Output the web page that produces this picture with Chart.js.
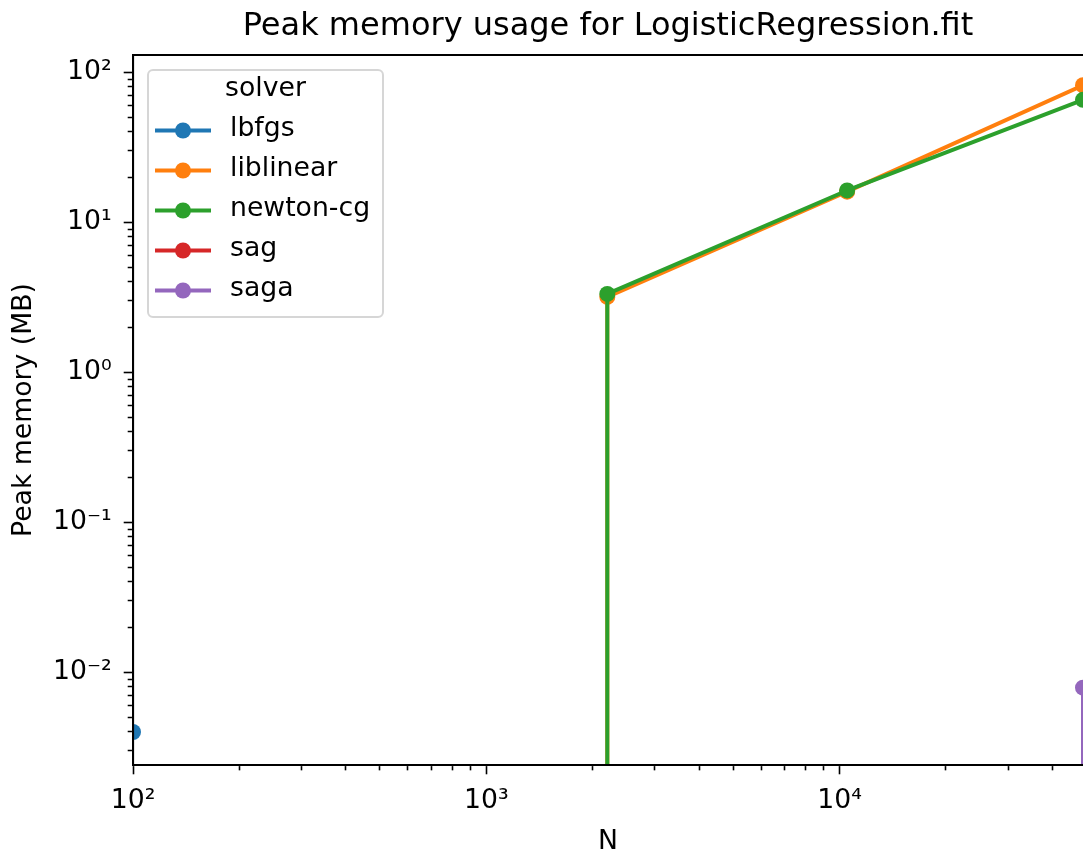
<!DOCTYPE html>
<html>
<head>
<meta charset="utf-8">
<script src="https://cdn.jsdelivr.net/npm/chart.js@4/dist/chart.umd.min.js"></script>
<style>
  html, body { margin: 0; padding: 0; background: #ffffff; }
  #wrap { width: 1083px; height: 855px; overflow: hidden; }
  canvas { display: block; }
</style>
</head>
<body>
<div id="wrap"><canvas id="chart" width="1083" height="855"></canvas></div>
<script>
// ---------------- data ----------------
// 0 = measured zero (clipped on a log axis), null = not measured
const N = [100, 2200, 10500, 48842];
const solvers = ['lbfgs', 'liblinear', 'newton-cg', 'sag', 'saga'];
const lbfgs = [0.004, null, null, null];
const liblinear = [0, 3.18, 16.0, 82];
const newtonCg = [0, 3.33, 16.3, 65.5];
const sag = [0, 0, 0, 0];
const saga = [0, 0, 0, 0.0079];

const xMajorTicks = [100, 1000, 10000];
const xTickLabels = ['10\u00B2', '10\u00B3', '10\u2074'];
const yMajorTicks = [0.01, 0.1, 1, 10, 100];
const yTickLabels = ['10\u207B\u00B2', '10\u207B\u00B9', '10\u2070', '10\u00B9', '10\u00B2'];
const xLimits = [100, 48842];
const yLimits = [0.00241, 130.4];

const titleText = 'Peak memory usage for LogisticRegression.fit';
const xTitle = 'N';
const yTitle = 'Peak memory (MB)';
const legendTitle = 'solver';

// ---------------- styling ----------------
const colors = ['#1f77b4', '#ff7f0e', '#2ca02c', '#d62728', '#9467bd'];
const FONT = 'DejaVu Sans';
const FS = 26.7;
const SPINE = 2.1;
const MAJOR_LEN = 9.3;
const MINOR_LEN = 5.3;
const FLOOR = 1e-30; // zero values are clipped far below the axis (as log scales do)

const series = [lbfgs, liblinear, newtonCg, sag, saga];

function minorTicks(lo, hi) {
  const out = [];
  for (let e = Math.floor(Math.log10(lo)); e <= Math.ceil(Math.log10(hi)); e++) {
    for (let k = 1; k <= 9; k++) {
      const v = k * Math.pow(10, e);
      if (v >= lo * 0.999999 && v <= hi * 1.000001) out.push(v);
    }
  }
  return out;
}
function isMajorOf(v, majors) {
  return majors.some(m => Math.abs(Math.log10(v) - Math.log10(m)) < 1e-9);
}
function labelFor(v, majors, labels) {
  const i = majors.findIndex(m => Math.abs(Math.log10(v) - Math.log10(m)) < 1e-9);
  return i >= 0 ? labels[i] : '';
}

// ---------------- datasets ----------------
const datasets = [];
series.forEach((vals, s) => {
  const order = series.length - s; // later series drawn on top, like matplotlib
  datasets.push({
    label: solvers[s],
    legendEntry: true,
    data: N.map((n, i) => ({ x: n, y: vals[i] > 0 ? vals[i] : null })),
    borderColor: colors[s],
    backgroundColor: colors[s],
    pointBackgroundColor: colors[s],
    pointBorderWidth: 0,
    pointRadius: 8,
    pointHoverRadius: 8,
    borderWidth: 4,
    borderJoinStyle: 'round',
    tension: 0,
    spanGaps: false,
    clip: 0,
    order: order
  });
  // drop lines toward the clipped floor where a measured value is zero
  for (let i = 0; i < N.length - 1; i++) {
    const a = vals[i], b = vals[i + 1];
    if (a === null || b === null) continue;
    if ((a > 0) !== (b > 0)) {
      datasets.push({
        label: solvers[s] + ' (clipped)',
        legendEntry: false,
        data: [{ x: N[i], y: a > 0 ? a : FLOOR }, { x: N[i + 1], y: b > 0 ? b : FLOOR }],
        stepped: a > 0 ? 'after' : 'before',
        borderColor: colors[s],
        backgroundColor: colors[s],
        pointRadius: 0,
        pointHoverRadius: 0,
        borderWidth: 4,
        tension: 0,
        clip: 0,
        order: order + 0.5
      });
    }
  }
});

// ---------------- legend (matplotlib-style, drawn on the canvas) ----------------
const mplLegend = {
  id: 'mplLegend',
  afterDraw(chart) {
    const ctx = chart.ctx;
    const ca = chart.chartArea;
    const entries = chart.data.datasets.filter(d => d.legendEntry);
    const x0 = ca.left + 15, y0 = ca.top + 15, w = 235, h = 247;
    ctx.save();
    ctx.beginPath();
    ctx.roundRect(x0, y0, w, h, 5);
    ctx.fillStyle = 'rgba(255,255,255,0.8)';
    ctx.fill();
    ctx.lineWidth = 2;
    ctx.strokeStyle = 'rgba(204,204,204,0.8)';
    ctx.stroke();
    ctx.fillStyle = '#000';
    ctx.font = FS + 'px "' + FONT + '"';
    ctx.textBaseline = 'middle';
    ctx.textAlign = 'center';
    ctx.fillText(legendTitle, x0 + w / 2, y0 + 19);
    entries.forEach((d, i) => {
      const cy = y0 + 60.5 + 40 * i;
      ctx.strokeStyle = d.borderColor;
      ctx.lineWidth = 4;
      ctx.beginPath();
      ctx.moveTo(x0 + 7, cy);
      ctx.lineTo(x0 + 63, cy);
      ctx.stroke();
      ctx.fillStyle = d.borderColor;
      ctx.beginPath();
      ctx.arc(x0 + 35, cy, 8, 0, Math.PI * 2);
      ctx.fill();
      ctx.fillStyle = '#000';
      ctx.textAlign = 'left';
      ctx.fillText(d.label, x0 + 82, cy - 1);
    });
    ctx.restore();
  }
};

// ---------------- chart ----------------
const xAllTicks = minorTicks(xLimits[0], xLimits[1]);
const yAllTicks = minorTicks(yLimits[0], yLimits[1]);

new Chart(document.getElementById('chart'), {
  type: 'line',
  data: { datasets: datasets },
  plugins: [mplLegend],
  options: {
    responsive: false,
    devicePixelRatio: 1,
    animation: false,
    events: [],
    layout: { padding: 0, autoPadding: false },
    plugins: {
      legend: { display: false },
      tooltip: { enabled: false },
      title: {
        display: true,
        text: titleText,
        fullSize: false,
        color: '#000',
        font: { family: FONT, size: 32, weight: 'normal', lineHeight: 1 },
        padding: { top: 11, bottom: 12 }
      }
    },
    scales: {
      x: {
        type: 'logarithmic',
        position: 'bottom',
        min: xLimits[0],
        max: xLimits[1],
        bounds: 'data',
        afterBuildTicks: s => { s.ticks = xAllTicks.map(v => ({ value: v })); },
        afterFit: s => { s.height = 90; s.paddingLeft = 0; s.paddingRight = 0; },
        ticks: {
          autoSkip: false,
          maxRotation: 0,
          minRotation: 0,
          padding: 11,
          color: '#000',
          font: { family: FONT, size: FS },
          callback: v => labelFor(v, xMajorTicks, xTickLabels)
        },
        grid: {
          display: true,
          drawOnChartArea: false,
          drawTicks: true,
          tickLength: MAJOR_LEN,
          tickWidth: 1.6,
          tickColor: '#000',
          tickBorderDash: c => (c.tick && !isMajorOf(c.tick.value, xMajorTicks)) ? [MINOR_LEN - SPINE / 2, 100] : []
        },
        border: { display: true, color: '#000', width: SPINE, z: 1 },
        title: {
          display: true,
          text: xTitle,
          color: '#000',
          font: { family: FONT, size: FS, lineHeight: 1 },
          padding: { top: 0, bottom: 0 }
        }
      },
      xTop: {
        type: 'logarithmic',
        position: 'top',
        min: xLimits[0],
        max: xLimits[1],
        bounds: 'data',
        afterFit: s => { s.height = 0; s.paddingLeft = 0; s.paddingRight = 0; },
        ticks: { display: false },
        grid: { display: false, drawTicks: false },
        border: { display: true, color: '#000', width: SPINE, z: 1 }
      },
      y: {
        type: 'logarithmic',
        position: 'left',
        min: yLimits[0],
        max: yLimits[1],
        bounds: 'data',
        afterBuildTicks: s => { s.ticks = yAllTicks.map(v => ({ value: v })); },
        afterFit: s => { s.width = 133; s.paddingTop = 0; s.paddingBottom = 0; },
        ticks: {
          autoSkip: false,
          padding: 12,
          color: '#000',
          font: { family: FONT, size: FS },
          callback: v => labelFor(v, yMajorTicks, yTickLabels)
        },
        grid: {
          display: true,
          drawOnChartArea: false,
          drawTicks: true,
          tickLength: MAJOR_LEN,
          tickWidth: 1.6,
          tickColor: '#000',
          tickBorderDash: c => (c.tick && !isMajorOf(c.tick.value, yMajorTicks)) ? [0, MAJOR_LEN - MINOR_LEN, MINOR_LEN - SPINE / 2, 100] : []
        },
        border: { display: true, color: '#000', width: SPINE, z: 1 },
        title: {
          display: true,
          text: yTitle,
          color: '#000',
          font: { family: FONT, size: FS, lineHeight: 1 },
          padding: { top: 10.3, bottom: 0 }
        }
      }
    }
  }
});
</script>
</body>
</html>
